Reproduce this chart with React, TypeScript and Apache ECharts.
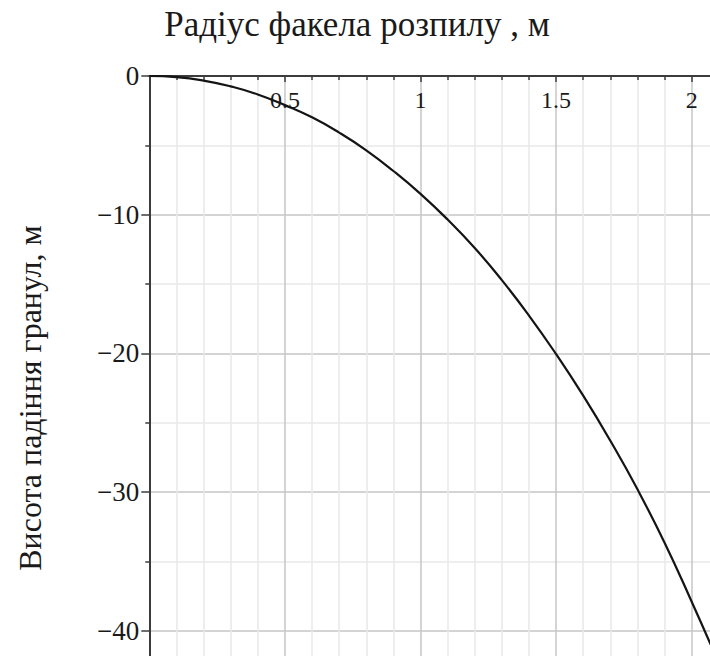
import React, { useEffect, useRef } from "react";
import * as echarts from "echarts";

const xTitle = "Радіус факела розпилу , м";
const yTitle = "Висота падіння гранул, м";

const radius = [0, 0.1, 0.2, 0.3, 0.4, 0.5, 0.6, 0.7, 0.8, 0.9, 1.0, 1.1, 1.2, 1.3, 1.4, 1.5, 1.6, 1.7, 1.8, 1.9, 2.0, 2.07];
const height = [0, -0.08, -0.33, -0.75, -1.33, -2.1, -2.98, -4.08, -5.36, -6.85, -8.5, -10.35, -12.4, -14.72, -17.27, -20.05, -23.05, -26.3, -29.8, -33.65, -37.9, -41.0];

const xTickLabels = [0.5, 1, 1.5, 2];
const yTickLabels = [0, -10, -20, -30, -40];

const SERIF = "'Liberation Serif', 'Times New Roman', serif";

export default function App() {
  const ref = useRef<HTMLDivElement>(null);

  useEffect(() => {
    if (!ref.current) return;
    const chart = echarts.init(ref.current, undefined, { renderer: "svg" });
    const pxPerX = 271.2;
    const pxPerY = 13.87;
    const option: any = {
      animation: false,
      backgroundColor: "#ffffff",
      grid: {
        left: 149.3,
        top: 76,
        width: 2.5 * pxPerX,
        height: 50 * pxPerY,
        containLabel: false,
        outerBoundsMode: "none",
      },
      xAxis: {
        type: "value",
        position: "top",
        min: 0,
        max: 2.5,
        interval: 0.5,
        axisLine: { show: true, onZero: false, lineStyle: { color: "#3c3c3c", width: 2 } },
        axisTick: { show: true, inside: true, length: 6, lineStyle: { color: "#3c3c3c", width: 1.5 } },
        minorTick: { show: true, splitNumber: 5, length: 4, lineStyle: { color: "#3c3c3c", width: 1.5 } },
        splitLine: { show: true, lineStyle: { color: "#c6c6c6", width: 1.5 } },
        minorSplitLine: { show: true, lineStyle: { color: "#e8e8e8", width: 1.5 } },
        axisLabel: {
          inside: true,
          margin: 12,
          fontFamily: SERIF,
          fontSize: 24,
          color: "#1a1a1a",
          formatter: (v: number) => (xTickLabels.some((t) => Math.abs(t - v) < 1e-6) ? String(v) : ""),
        },
      },
      yAxis: {
        type: "value",
        min: -50,
        max: 0,
        interval: 10,
        axisLine: { show: true, onZero: false, lineStyle: { color: "#3c3c3c", width: 2 } },
        axisTick: { show: true, length: 8, lineStyle: { color: "#3c3c3c", width: 1.5 } },
        minorTick: { show: true, splitNumber: 2, length: 4, lineStyle: { color: "#3c3c3c", width: 1.5 } },
        splitLine: { show: true, lineStyle: { color: "#c6c6c6", width: 1.5 } },
        minorSplitLine: { show: true, lineStyle: { color: "#e8e8e8", width: 1.5 } },
        axisLabel: {
          margin: 10,
          fontFamily: SERIF,
          fontSize: 27,
          color: "#1a1a1a",
          formatter: (v: number) => {
            if (!yTickLabels.some((t) => Math.abs(t - v) < 1e-6)) return "";
            return v < 0 ? "\u2212" + Math.abs(v) : String(v);
          },
        },
      },
      graphic: [
        {
          type: "text",
          x: 357,
          y: 24,
          style: {
            text: xTitle,
            fontFamily: SERIF,
            fontSize: 35,
            fill: "#1a1a1a",
            textAlign: "center",
            textVerticalAlign: "middle",
          },
        },
        {
          type: "text",
          x: 30,
          y: 398,
          rotation: Math.PI / 2,
          style: {
            text: yTitle,
            fontFamily: SERIF,
            fontSize: 32,
            fill: "#1a1a1a",
            textAlign: "center",
            textVerticalAlign: "middle",
          },
        },
      ],
      series: [
        {
          type: "line",
          data: radius.map((r, i) => [r, height[i]]),
          smooth: true,
          showSymbol: false,
          symbol: "none",
          lineStyle: { color: "#141414", width: 2.2 },
          clip: true,
        },
      ],
    };
    chart.setOption(option);
    return () => chart.dispose();
  }, []);

  return (
    <div
      ref={ref}
      style={{ position: "absolute", left: 0, top: 0, width: 710, height: 656, overflow: "hidden", background: "#fff" }}
    />
  );
}
